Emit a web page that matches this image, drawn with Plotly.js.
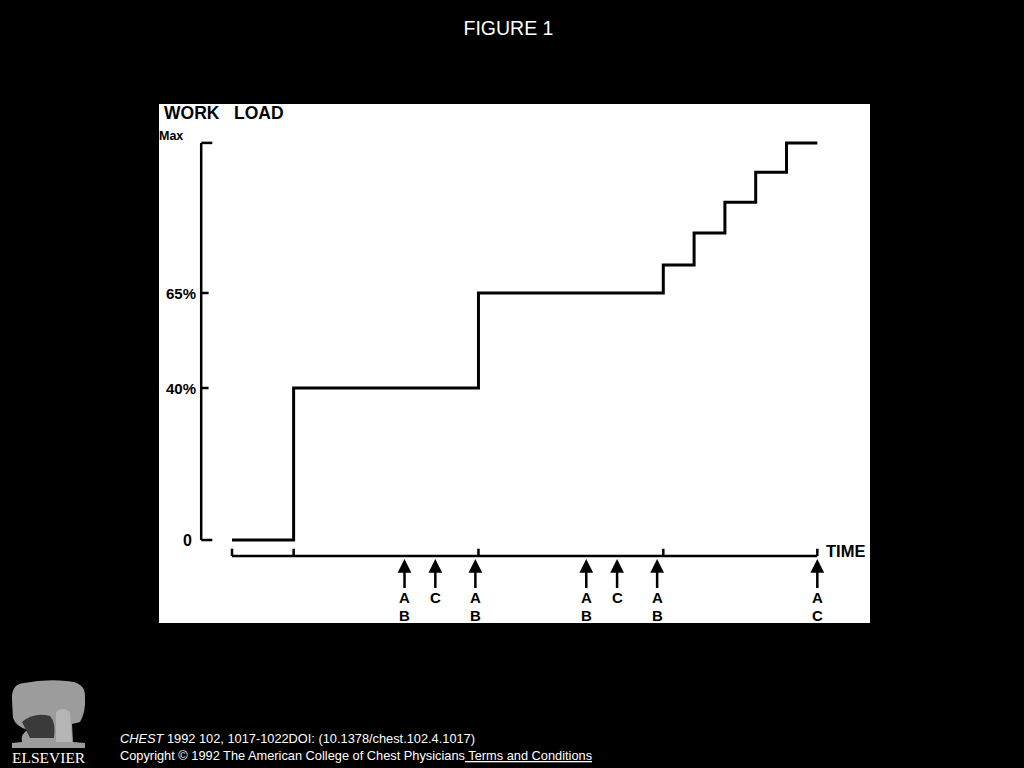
<!DOCTYPE html>
<html>
<head>
<meta charset="utf-8">
<script src="https://cdn.plot.ly/plotly-3.0.1.min.js"></script>
<style>html,body{margin:0;padding:0;background:#000;}#chart{width:1024px;height:768px;}</style>
</head>
<body>
<div id="chart"></div>
<script>
// ---- data ----
const time = [0, 2, 8, 14, 15, 16, 17, 18, 19];
const workload = [0, 40, 65, 72.4, 80.8, 88.9, 96.8, 104.5, 104.5];
const yTickVals = [0, 40, 65, 104.5];
const yTickText = ['0', '40%', '65%', 'Max'];
const timeTicks = [0, 2, 8, 14, 19];
const arrowTimes = [5.6, 6.6, 7.9, 11.5, 12.5, 13.8, 19];
const arrowTop = ['A', 'C', 'A', 'A', 'C', 'A', 'A'];
const arrowBottom = ['B', '', 'B', 'B', '', 'B', 'C'];

// ---- layout helpers ----
const W = 1024, H = 768;
const px = x => x / W;
const py = y => 1 - y / H;
const yAxisX = -1.0;      // position of drawn work-load axis (time units)
const timeAxisY = -4.2;   // position of drawn time axis (work-load units)
const arrowTipY = -5.0;   // arrow tip just under the time axis
const labelFont = {family: 'Liberation Sans, Arial, sans-serif', color: '#000', weight: 'bold'};

const shapes = [];
// vertical work-load axis
shapes.push({type: 'line', xref: 'x', yref: 'y', x0: yAxisX, x1: yAxisX, y0: yTickVals[0], y1: yTickVals[yTickVals.length - 1], line: {color: '#000', width: 2.5}});
// y ticks pointing right
yTickVals.forEach((v, i) => {
  const len = (i === 0 || i === yTickVals.length - 1) ? 0.36 : 0.24;
  shapes.push({type: 'line', xref: 'x', yref: 'y', x0: yAxisX, x1: yAxisX + len, y0: v, y1: v, line: {color: '#000', width: 2.5}});
});
// time axis
shapes.push({type: 'line', xref: 'x', yref: 'y', x0: timeTicks[0], x1: timeTicks[timeTicks.length - 1], y0: timeAxisY, y1: timeAxisY, line: {color: '#000', width: 2.5}});
timeTicks.forEach(t => {
  shapes.push({type: 'line', xref: 'x', yref: 'y', x0: t, x1: t, y0: timeAxisY, y1: timeAxisY + 1.9, line: {color: '#000', width: 2.5}});
});
// Elsevier tree (decoration)
function toPaper(p) {
  return p.replace(/(-?\d+(?:\.\d+)?) (-?\d+(?:\.\d+)?)/g, (m, a, b) => px(+a).toFixed(5) + ' ' + py(+b).toFixed(5));
}
const canopy = 'M 12 700 Q 11 684 24 683 Q 45 679 66 681 Q 86 682 85 697 Q 86 712 80 722 L 72 724 L 73 742 L 85 743 L 85 748 L 12 748 L 12 743 L 22 742 Q 20 734 28 730 Q 16 727 13 718 Z';
shapes.push({type: 'path', xref: 'paper', yref: 'paper', path: toPaper(canopy), fillcolor: '#9c9c9c', line: {width: 0}});
const hollow = 'M 22 722 Q 34 712 50 716 Q 56 722 54 738 L 30 738 Q 26 730 22 722 Z';
shapes.push({type: 'path', xref: 'paper', yref: 'paper', path: toPaper(hollow), fillcolor: '#3a3a3a', line: {width: 0}});
const trunk = 'M 56 712 Q 62 706 70 712 L 72 742 L 56 742 Z';
shapes.push({type: 'path', xref: 'paper', yref: 'paper', path: toPaper(trunk), fillcolor: '#b5b5b5', line: {width: 0}});

const annotations = [];
// y tick labels
const yLabelCfg = [
  {x: -1.25, yshift: 0, size: 16},
  {x: -1.12, yshift: 0, size: 15},
  {x: -1.12, yshift: 0, size: 15},
  {x: -1.52, yshift: 7, size: 12.5}
];
yTickVals.forEach((v, i) => {
  annotations.push({xref: 'x', yref: 'y', x: yLabelCfg[i].x, y: v, text: yTickText[i], showarrow: false, xanchor: 'right', yanchor: 'middle', yshift: yLabelCfg[i].yshift, font: Object.assign({}, labelFont, {size: yLabelCfg[i].size})});
});
// axis titles
annotations.push({xref: 'paper', yref: 'paper', x: px(162), y: py(113), text: 'WORK\u00a0\u00a0\u00a0LOAD', showarrow: false, xanchor: 'left', yanchor: 'middle', font: Object.assign({}, labelFont, {size: 17.5})});
annotations.push({xref: 'x', yref: 'y', x: 19.22, y: -2.9, text: 'TIME', showarrow: false, xanchor: 'left', yanchor: 'middle', font: Object.assign({}, labelFont, {size: 16.5})});
// event arrows with their letters
arrowTimes.forEach((t, i) => {
  annotations.push({xref: 'x', yref: 'y', x: t, y: arrowTipY, text: arrowTop[i], showarrow: true, ax: 0, ay: 38, arrowhead: 2, arrowsize: 1.1, arrowwidth: 2.5, arrowcolor: '#000', standoff: 0, startstandoff: 0, borderpad: 0, font: Object.assign({}, labelFont, {size: 15})});
  if (arrowBottom[i]) {
    annotations.push({xref: 'x', yref: 'y', x: t, y: arrowTipY, text: arrowBottom[i], showarrow: false, yshift: -56, xanchor: 'center', yanchor: 'middle', font: Object.assign({}, labelFont, {size: 15})});
  }
});
// footer
const footFont = {family: 'Liberation Sans, Arial, sans-serif', size: 12.8, color: '#fff'};
annotations.push({xref: 'paper', yref: 'paper', x: px(118), y: py(738), text: '<i>CHEST</i> 1992 102, 1017-1022DOI: (10.1378/chest.102.4.1017)', showarrow: false, xanchor: 'left', yanchor: 'middle', font: footFont});
annotations.push({xref: 'paper', yref: 'paper', x: px(118), y: py(755), text: 'Copyright © 1992 The American College of Chest Physicians<u> Terms and Conditions</u>', showarrow: false, xanchor: 'left', yanchor: 'middle', font: footFont});
annotations.push({xref: 'paper', yref: 'paper', x: px(48.5), y: py(757), text: 'ELSEVIER', showarrow: false, xanchor: 'center', yanchor: 'middle', font: {family: 'Liberation Serif, Times New Roman, serif', size: 15.5, color: '#fff'}});

const trace = {
  x: time, y: workload, type: 'scatter', mode: 'lines',
  line: {shape: 'hv', color: '#000', width: 3},
  hoverinfo: 'skip', showlegend: false
};

const layout = {
  width: W, height: H,
  margin: {l: 0, r: 0, t: 0, b: 0},
  paper_bgcolor: '#000', plot_bgcolor: '#fff',
  title: {text: 'FIGURE 1', x: px(508.5), xanchor: 'center', y: py(28), yanchor: 'middle', font: {family: 'Liberation Sans, Arial, sans-serif', size: 19.5, color: '#fff'}},
  xaxis: {domain: [px(159), px(870)], range: [-2.37, 20.71], visible: false, showgrid: false, zeroline: false, fixedrange: true},
  yaxis: {domain: [py(623), py(104)], range: [-21.84, 114.74], visible: false, showgrid: false, zeroline: false, fixedrange: true},
  shapes: shapes,
  annotations: annotations,
  showlegend: false
};

Plotly.newPlot('chart', [trace], layout, {displayModeBar: false, staticPlot: true});
</script>
</body>
</html>
